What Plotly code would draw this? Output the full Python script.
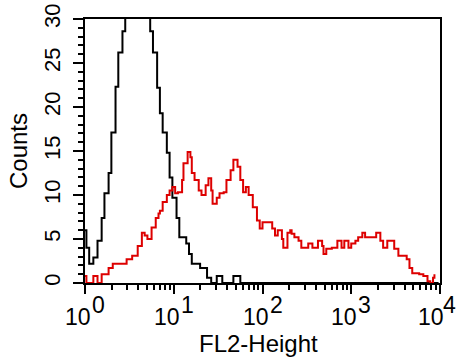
import plotly.graph_objects as go

# Channel numbers (256 channels over 4 log decades) and counts
black_ch = [0, 1, 3, 6, 9, 12, 14, 17, 19, 22, 24, 27, 29, 32, 37, 42, 47, 49, 52, 54,
            56, 59, 61, 63, 66, 68, 73, 75, 77, 83, 88, 91, 95, 99, 107, 112, 255]
black_counts = [6.0, 4.0, 2.2, 2.9, 4.8, 7.4, 10.2, 12.5, 17.1, 22.3, 26.2, 28.6, 31, 33, 33, 31, 28.6, 26.2, 22.2, 19.3,
                17.1, 14.8, 12.0, 9.7, 7.4, 5.2, 4.5, 3.3, 2.2, 1.7, 0.6, 0, 0.8, 0, 0.8, 0, 0]

red_ch = [0, 1, 6, 9, 12, 17, 20, 30, 34, 38, 41, 43, 45, 48, 51, 53, 54, 56, 59, 61,
          63, 65, 67, 70, 71, 74, 76, 77, 79, 82, 84, 87, 89, 91, 92, 95, 97, 100, 102, 105,
          107, 110, 112, 114, 116, 118, 121, 124, 126, 128, 132, 135, 137, 139, 142, 143, 146, 148, 149, 151,
          154, 156, 159, 161, 164, 166, 168, 171, 172, 174, 178, 180, 182, 185, 187, 190, 192, 195, 197, 200,
          202, 207, 210, 213, 215, 218, 221, 223, 226, 229, 232, 234, 236, 239, 241, 244, 247, 249, 251, 252]
red_counts = [0.8, 0, 0.8, 0, 1.0, 1.7, 2.2, 2.7, 3.1, 4.2, 5.7, 5.4, 5.0, 6.3, 7.4, 7.9, 8.2, 9.2, 10.0, 10.5,
              10.9, 10.2, 10.3, 11.7, 13.6, 14.9, 14.3, 12.5, 11.7, 10.5, 10.0, 11.1, 11.9, 10.5, 9.0, 9.7, 10.2, 10.3, 11.7, 12.8,
              14.0, 13.2, 11.7, 10.3, 10.9, 10.0, 8.6, 7.1, 6.2, 6.9, 6.9, 6.2, 5.4, 6.0, 5.0, 4.0, 5.7, 6.0, 5.6, 5.2,
              4.8, 4.0, 4.0, 4.5, 4.0, 4.0, 4.8, 4.2, 3.3, 3.9, 4.0, 4.0, 4.8, 4.0, 4.8, 4.0, 4.5, 4.8, 5.2, 5.7,
              5.2, 5.2, 5.7, 4.8, 4.0, 4.8, 4.8, 3.9, 3.1, 3.1, 2.7, 1.7, 1.1, 1.1, 1.0, 0.8, 0.2, 0, 0.6, 1.0]

decades = [0, 1, 2, 3, 4]
y_ticks = [0, 5, 10, 15, 20, 25, 30]
x_title = "FL2-Height"
y_title = "Counts"

CH_PER_DECADE = 64.0
black_x = [10 ** (c / CH_PER_DECADE) for c in black_ch]
red_x = [10 ** (c / CH_PER_DECADE) for c in red_ch]

FONT = "Liberation Sans, Arial, sans-serif"

fig = go.Figure()
fig.add_trace(go.Scatter(x=black_x, y=black_counts, mode="lines", line=dict(color="black", width=2, shape="hv"),
                         showlegend=False))
fig.add_trace(go.Scatter(x=red_x, y=red_counts, mode="lines", line=dict(color="#dd0000", width=2, shape="hv"),
                         showlegend=False))

fig.update_layout(
    width=456, height=360,
    margin=dict(l=85, r=16, t=19, b=77),
    paper_bgcolor="white", plot_bgcolor="white",
    font=dict(family=FONT, color="black", size=23),
)
fig.update_xaxes(
    type="log", range=[-0.0003, 4.0003], automargin=False,
    tickvals=[10 ** d for d in decades], showticklabels=False,
    ticks="outside", ticklen=9, tickwidth=2, tickcolor="black",
    minor=dict(ticks="outside", ticklen=5, tickwidth=2, tickcolor="black", dtick="D1", showgrid=False),
    showline=True, linecolor="black", linewidth=2, mirror=True,
    showgrid=False, zeroline=False,
)
fig.update_yaxes(
    range=[0, 30], tickvals=y_ticks, automargin=False,
    ticks="outside", ticklen=10, tickwidth=2, tickcolor="black",
    minor=dict(ticks="outside", ticklen=5, tickwidth=2, tickcolor="black", dtick=1, showgrid=False),
    showline=True, linecolor="black", linewidth=2, mirror=True,
    showgrid=False, zeroline=False,
    tickangle=-90, tickfont=dict(size=22), ticklabelstandoff=4,
    title=dict(text=y_title, font=dict(size=24), standoff=6),
)

# x tick labels: "10" with a full-size exponent, as in the reference
for d in decades:
    last = d == decades[-1]
    fig.add_annotation(x=d, xref="x", y=0, yref="paper", text="10", showarrow=False,
                       xanchor="right", yanchor="top", xshift=6 if last else 8, yshift=-19,
                       font=dict(size=23, family=FONT, color="black"))
    fig.add_annotation(x=d, xref="x", y=0, yref="paper", text=str(d), showarrow=False,
                       xanchor="left", yanchor="top", xshift=1 if last else 5, yshift=-7,
                       font=dict(size=23, family=FONT, color="black"))

fig.add_annotation(x=0.5, xref="paper", y=0, yref="paper", text=x_title, showarrow=False,
                   xanchor="center", yanchor="middle", xshift=-4, yshift=-60,
                   font=dict(size=24, family=FONT, color="black"))

fig.write_html("out.html", config={"displayModeBar": False},
               post_script="document.body.style.margin='0';document.body.style.padding='0';")
